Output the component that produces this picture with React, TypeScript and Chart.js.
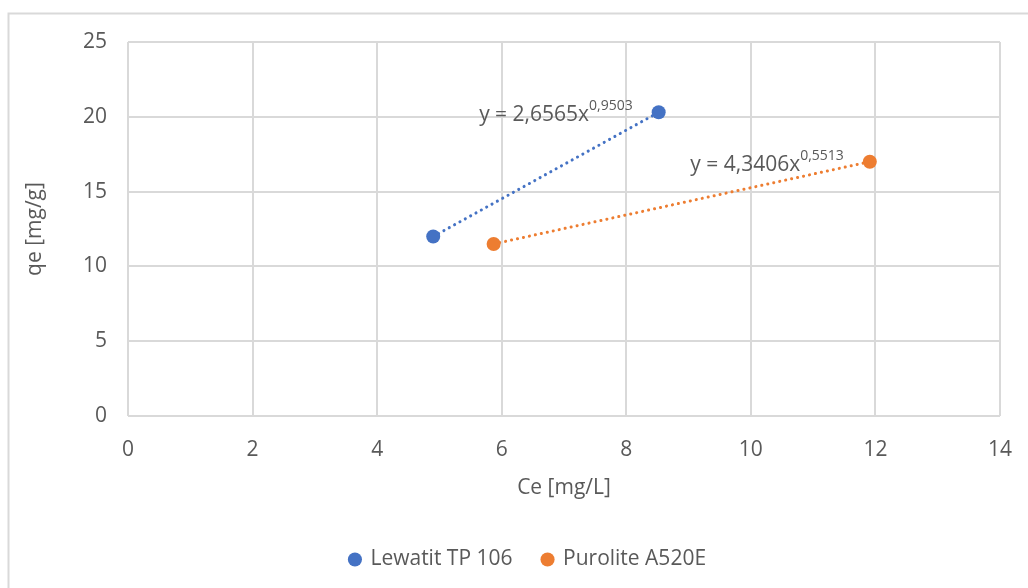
import React, { useEffect, useRef } from "react";
import { Chart, registerables } from "chart.js";

Chart.register(...registerables);

// ---- data ----
const seriesNames = ["Lewatit TP 106", "Purolite A520E"];
const lewatitCe = [4.9, 8.52];
const lewatitQe = [12.0, 20.3];
const puroliteCe = [5.87, 11.91];
const puroliteQe = [11.5, 17.0];
const trendBase = ["y = 2,6565x", "y = 4,3406x"];
const trendExp = ["0,9503", "0,5513"];
const xTicks = [0, 2, 4, 6, 8, 10, 12, 14];
const yTicks = [0, 5, 10, 15, 20, 25];
const xTitle = "Ce [mg/L]";
const yTitle = "qe [mg/g]";
const seriesColors = ["#4472C4", "#ED7D31"];

const FONT = "'Open Sans', 'DejaVu Sans', sans-serif";
const FS = 21;
const TEXT = "#595959";
const GRID = "#D9D9D9";
const LEGEND_SHIFT = 28;

const toPoints = (xs: number[], ys: number[]) => xs.map((x, i) => ({ x, y: ys[i] }));

const frame = {
  id: "frame",
  beforeDraw(chart: any) {
    const ctx = chart.ctx;
    ctx.save();
    ctx.fillStyle = "#ffffff";
    ctx.fillRect(0, 0, chart.width, chart.height);
    ctx.strokeStyle = GRID;
    ctx.lineWidth = 2;
    ctx.strokeRect(8.5, 13.5, chart.width + 20, chart.height + 20);
    ctx.restore();
  },
};

const legendShift = {
  id: "legendShift",
  afterLayout(chart: any) {
    const lg = chart.legend;
    if (lg) {
      lg.left += LEGEND_SHIFT;
      lg.right += LEGEND_SHIFT;
    }
  },
};

const equations = {
  id: "equations",
  afterDatasetsDraw(chart: any) {
    const ctx = chart.ctx;
    ctx.save();
    for (let i = 0; i < 2; i++) {
      const meta = chart.getDatasetMeta(i);
      const last = meta.data[meta.data.length - 1];
      if (!last) continue;
      const right = last.x - 26;
      const cy = last.y + 3;
      ctx.font = `${FS}px ${FONT}`;
      const wb = ctx.measureText(trendBase[i]).width;
      ctx.font = `14px ${FONT}`;
      const we = ctx.measureText(trendExp[i]).width;
      const start = right - wb - we;
      ctx.fillStyle = TEXT;
      ctx.textBaseline = "middle";
      ctx.textAlign = "left";
      ctx.font = `${FS}px ${FONT}`;
      ctx.fillText(trendBase[i], start, cy);
      ctx.font = `14px ${FONT}`;
      ctx.fillText(trendExp[i], start + wb, cy - 9);
    }
    ctx.restore();
  },
};

export default function App() {
  const ref = useRef<HTMLCanvasElement | null>(null);

  useEffect(() => {
    if (!ref.current) return;
    const lew = toPoints(lewatitCe, lewatitQe);
    const pur = toPoints(puroliteCe, puroliteQe);
    const chart = new Chart(ref.current, {
      type: "scatter",
      data: {
        datasets: [
          {
            label: seriesNames[0],
            data: lew,
            backgroundColor: seriesColors[0],
            borderColor: seriesColors[0],
            borderWidth: 0,
            pointRadius: 7,
            pointHoverRadius: 7,
            pointStyle: "circle",
            order: 0,
          },
          {
            label: seriesNames[1],
            data: pur,
            backgroundColor: seriesColors[1],
            borderColor: seriesColors[1],
            borderWidth: 0,
            pointRadius: 7,
            pointHoverRadius: 7,
            pointStyle: "circle",
            order: 0,
          },
          {
            label: "trend1",
            data: lew,
            showLine: true,
            pointRadius: 0,
            borderColor: seriesColors[0],
            borderWidth: 3,
            borderDash: [0.1, 6],
            borderCapStyle: "round",
            order: 1,
          },
          {
            label: "trend2",
            data: pur,
            showLine: true,
            pointRadius: 0,
            borderColor: seriesColors[1],
            borderWidth: 3,
            borderDash: [0.1, 6],
            borderCapStyle: "round",
            order: 1,
          },
        ] as any,
      },
      options: {
        responsive: false,
        animation: false,
        layout: { padding: { top: 42, right: 28, left: 0, bottom: 8 } },
        plugins: {
          tooltip: { enabled: false },
          legend: {
            display: true,
            position: "bottom",
            labels: {
              filter: (item: any) => item.datasetIndex < 2,
              usePointStyle: true,
              pointStyle: "circle",
              boxWidth: 10,
              boxHeight: 10,
              padding: 30,
              color: TEXT,
              font: { family: FONT, size: FS },
            },
          },
        },
        scales: {
          x: {
            type: "linear",
            min: xTicks[0],
            max: xTicks[xTicks.length - 1],
            afterBuildTicks: (s: any) => {
              s.ticks = xTicks.map((v) => ({ value: v }));
            },
            afterFit: (s: any) => {
              s.height = 103;
              s.paddingLeft = 0;
              s.paddingRight = 0;
            },
            grid: { color: GRID, lineWidth: 2, drawTicks: false },
            border: { display: false },
            ticks: { color: TEXT, padding: 21, font: { family: FONT, size: FS } },
            title: {
              display: true,
              text: xTitle,
              color: TEXT,
              font: { family: FONT, size: FS },
              padding: { top: 0, bottom: 18 },
            },
          },
          y: {
            type: "linear",
            min: yTicks[0],
            max: yTicks[yTicks.length - 1],
            afterBuildTicks: (s: any) => {
              s.ticks = yTicks.map((v) => ({ value: v }));
            },
            afterFit: (s: any) => {
              s.width = 128;
            },
            grid: { color: GRID, lineWidth: 2, drawTicks: false },
            border: { display: false },
            ticks: { color: TEXT, padding: 21, font: { family: FONT, size: FS } },
            title: {
              display: true,
              text: yTitle,
              color: TEXT,
              font: { family: FONT, size: FS },
              padding: { top: 22, bottom: 0 },
            },
          },
        },
      } as any,
      plugins: [frame, legendShift, equations],
    });
    return () => chart.destroy();
  }, []);

  return (
    <div style={{ position: "absolute", left: 0, top: 0, width: 1028, height: 588 }}>
      <canvas ref={ref} width={1028} height={588} style={{ width: 1028, height: 588, display: "block" }} />
    </div>
  );
}
